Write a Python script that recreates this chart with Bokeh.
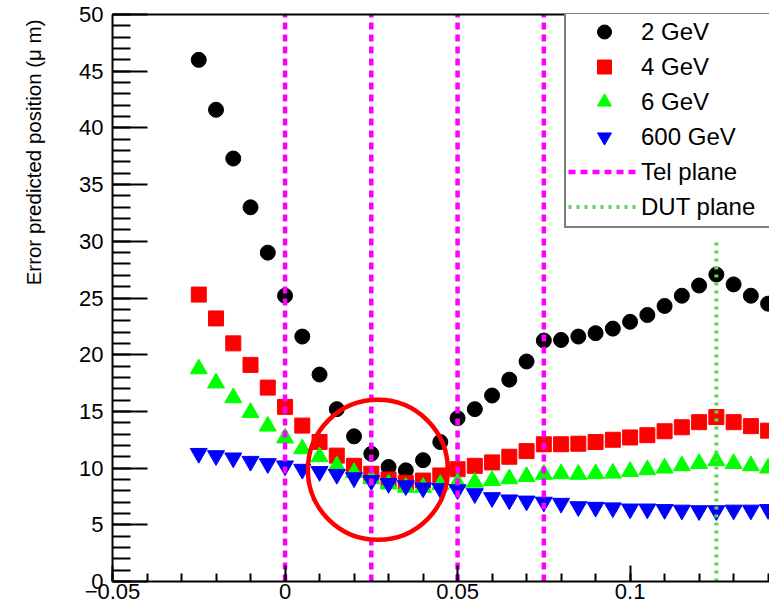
from bokeh.plotting import figure
from bokeh.models import (Legend, LegendItem, LinearAxis, SingleIntervalTicker, Title,
                          FixedTicker, CustomJSTickFormatter, Range1d)
from bokeh.embed import file_html
from bokeh.resources import INLINE

# ---- data ----
x_pos = [-0.025, -0.02, -0.015, -0.01, -0.005, 0.0, 0.005, 0.01, 0.015, 0.02,
         0.025, 0.03, 0.035, 0.04, 0.045, 0.05, 0.055, 0.06, 0.065, 0.07,
         0.075, 0.08, 0.085, 0.09, 0.095, 0.1, 0.105, 0.11, 0.115, 0.12,
         0.125, 0.13, 0.135, 0.14]
err_2gev = [46.0, 41.6, 37.3, 33.0, 29.0, 25.2, 21.6, 18.25, 15.2, 12.8,
            11.26, 10.1, 9.8, 10.7, 12.3, 14.4, 15.2, 16.4, 17.8, 19.4,
            21.25, 21.3, 21.6, 21.9, 22.3, 22.9, 23.5, 24.3, 25.2, 26.1,
            27.07, 26.2, 25.2, 24.5]
err_4gev = [25.3, 23.2, 21.0, 19.1, 17.1, 15.4, 13.75, 12.3, 11.1, 10.2,
            9.5, 9.0, 8.7, 8.9, 9.35, 9.9, 10.2, 10.5, 11.0, 11.5,
            12.1, 12.1, 12.15, 12.3, 12.5, 12.7, 12.9, 13.25, 13.6, 14.05,
            14.5, 14.05, 13.7, 13.3]
err_6gev = [18.75, 17.5, 16.2, 14.9, 13.7, 12.65, 11.7, 11.0, 10.2, 9.6,
            9.05, 8.6, 8.3, 8.3, 8.55, 8.7, 8.75, 8.9, 9.05, 9.25,
            9.45, 9.5, 9.45, 9.5, 9.55, 9.7, 9.85, 10.0, 10.2, 10.4,
            10.65, 10.4, 10.2, 10.0]
err_600gev = [11.3, 11.1, 10.9, 10.6, 10.4, 10.2, 9.9, 9.7, 9.45, 9.15,
              8.9, 8.65, 8.45, 8.25, 8.2, 8.1, 7.75, 7.4, 7.2, 7.1,
              7.0, 6.9, 6.6, 6.55, 6.5, 6.4, 6.4, 6.35, 6.3, 6.25,
              6.25, 6.3, 6.3, 6.35]
tel_planes = [0.0, 0.025, 0.05, 0.075]
tel_bottom = [0, 0, 0, 0]
tel_top = [50, 50, 50, 50]
dut_plane = [0.125]
dut_bottom = [0]
dut_top = [30]
ring_x = [0.0269]
ring_y = [9.85]

series_labels = ["2 GeV", "4 GeV", "6 GeV", "600 GeV", "Tel plane", "DUT plane"]
y_title = "Error predicted position (\u03bc m)"

FONT = "Liberation Sans"

p = figure(width=769, height=605, output_backend="svg", toolbar_location=None,
           x_range=Range1d(-0.05, 0.1404), y_range=Range1d(0, 50),
           min_border_left=112, min_border_right=0, min_border_top=14,
           min_border_bottom=24)
p.outline_line_color = None
p.xgrid.grid_line_color = None
p.ygrid.grid_line_color = None
p.background_fill_color = "white"
p.border_fill_color = "white"

xa = p.xaxis[0]
ya = p.yaxis[0]
xa.ticker = SingleIntervalTicker(interval=0.05, num_minor_ticks=5)
ya.ticker = SingleIntervalTicker(interval=5, num_minor_ticks=5)
xa.formatter = CustomJSTickFormatter(code="""
if (Math.abs(tick) < 1e-9) { return "0"; }
const s = (+tick.toFixed(3)).toString();
return s.replace("-", "\u2212");
""")
for ax in (xa, ya):
    ax.axis_line_width = 2
    ax.axis_line_color = "black"
    ax.major_tick_line_width = 2
    ax.minor_tick_line_width = 2
    ax.major_tick_out = 0
    ax.minor_tick_out = 0
    ax.major_label_text_font = FONT
    ax.major_label_text_font_size = "22px"
    ax.major_label_text_color = "black"
ya.major_tick_in = 35
ya.minor_tick_in = 18
xa.major_tick_in = 16
xa.minor_tick_in = 8
ya.major_label_standoff = 9
xa.major_label_standoff = 2
# spacer so that the rotated title sits at the far left like the reference
ya.axis_label = " "
ya.axis_label_text_font_size = "1px"
ya.axis_label_standoff = 27

top = LinearAxis(ticker=FixedTicker(ticks=[]), major_tick_in=0, major_tick_out=0,
                 minor_tick_in=0, minor_tick_out=0, major_label_text_font_size="0px",
                 axis_line_width=2, axis_line_color="black", major_label_standoff=0)
p.add_layout(top, "above")

r2 = p.scatter(x_pos, err_2gev, marker="circle", size=15, color="black")
r4 = p.scatter(x_pos, err_4gev, marker="square", size=15, color="red")
r6 = p.scatter(x_pos, err_6gev, marker="triangle", size=17, color="#00ff00")
r600 = p.scatter(x_pos, err_600gev, marker="inverted_triangle", size=17, color="blue")
rtel = p.segment(x0=tel_planes, y0=tel_bottom, x1=tel_planes, y1=tel_top,
                 line_color="#ff00ff", line_width=4.5, line_dash="7 5")
rdut = p.segment(x0=dut_plane, y0=dut_bottom, x1=dut_plane, y1=dut_top,
                 line_color="#5fd35a", line_width=4, line_dash="3 5")
p.scatter(ring_x, ring_y, marker="circle", size=140, fill_color=None,
          line_color="red", line_width=4.5)

legend = Legend(items=[LegendItem(label=series_labels[0], renderers=[r2]),
                       LegendItem(label=series_labels[1], renderers=[r4]),
                       LegendItem(label=series_labels[2], renderers=[r6]),
                       LegendItem(label=series_labels[3], renderers=[r600]),
                       LegendItem(label=series_labels[4], renderers=[rtel]),
                       LegendItem(label=series_labels[5], renderers=[rdut])],
                location=(452, 353))
legend.margin = 0
legend.padding = 2
legend.spacing = 0
legend.glyph_width = 72
legend.glyph_height = 35
legend.label_height = 35
legend.label_width = 150
legend.label_standoff = 1
legend.border_line_color = "black"
legend.border_line_width = 2
legend.background_fill_color = "white"
legend.background_fill_alpha = 1
legend.label_text_font = FONT
legend.label_text_font_size = "24px"
legend.label_text_color = "black"
p.add_layout(legend)

ytitle = Title(text=y_title, align="right", vertical_align="bottom",
               text_font=FONT, text_font_size="20.5px", text_font_style="normal",
               text_color="black", standoff=0, offset=5)
p.add_layout(ytitle, "left")

open("out.html", "w").write(file_html(p, INLINE))
